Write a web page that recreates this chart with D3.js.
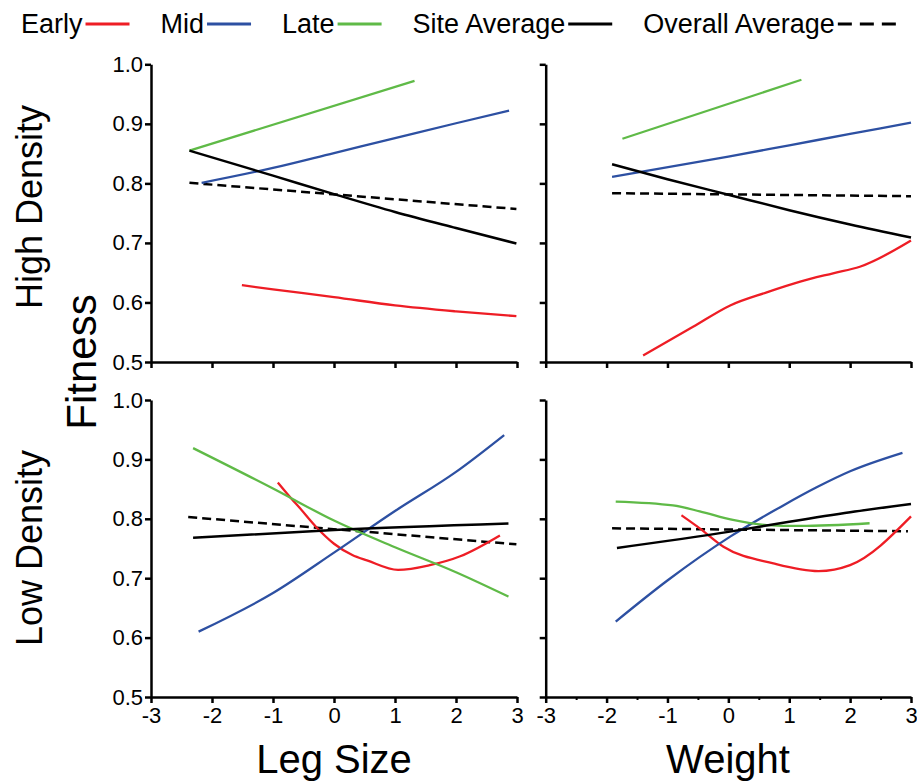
<!DOCTYPE html>
<html>
<head>
<meta charset="utf-8">
<script src="https://cdn.jsdelivr.net/npm/d3@7"></script>
<style>
  body { margin: 0; background: #fff; }
  text { font-family: "Liberation Sans", Arial, sans-serif; fill: #000; }
</style>
</head>
<body>
<div id="chart"></div>
<script>
// tick values
const yTicks = [0.5, 0.6, 0.7, 0.8, 0.9, 1.0];
const xTicks = [-3, -2, -1, 0, 1, 2, 3];
const xMinorTicks = [-2.5, -1.5, -0.5, 0.5, 1.5, 2.5];

const legendLabels = ["Early", "Mid", "Late", "Site Average", "Overall Average"];

// high density, leg size  [x, fitness]
const hdLegEarly = [[-1.51, 0.629], [-1, 0.622], [0, 0.609], [1, 0.595], [2, 0.585], [2.99, 0.577]];
const hdLegMid = [[-2.17, 0.801], [-1, 0.826], [0, 0.851], [1, 0.876], [2, 0.901], [2.87, 0.922]];
const hdLegLate = [[-2.37, 0.855], [1.32, 0.972]];
const hdLegSite = [[-2.37, 0.855], [-1, 0.813], [0, 0.782], [1, 0.752], [2, 0.725], [2.99, 0.699]];
const hdLegOverall = [[-2.37, 0.801], [2.99, 0.757]];

// high density, weight
const hdWtEarly = [[-1.40, 0.511], [-0.58, 0.559], [0.03, 0.595], [0.63, 0.617], [1.18, 0.635], [1.72, 0.649], [2.16, 0.660], [3.0, 0.704]];
const hdWtMid = [[-1.91, 0.811], [0, 0.845], [1, 0.864], [2, 0.883], [3, 0.902]];
const hdWtLate = [[-1.74, 0.875], [1.20, 0.974]];
const hdWtSite = [[-1.91, 0.832], [-1, 0.807], [0, 0.781], [1, 0.755], [2, 0.731], [3, 0.709]];
const hdWtOverall = [[-1.91, 0.7835], [3, 0.7785]];

// low density, leg size
const ldLegEarly = [[-0.92, 0.861], [-0.69, 0.833], [-0.56, 0.818], [-0.3, 0.787], [0, 0.758], [0.3, 0.739], [0.54, 0.73], [1.05, 0.714], [1.57, 0.722], [2.07, 0.737], [2.72, 0.772]];
const ldLegMid = [[-2.22, 0.61], [-1, 0.675], [0, 0.743], [1, 0.813], [2, 0.879], [2.79, 0.941]];
const ldLegLate = [[-2.31, 0.919], [-1, 0.851], [0, 0.797], [1, 0.752], [2, 0.71], [2.86, 0.669]];
const ldLegSite = [[-2.31, 0.768], [0, 0.781], [2.86, 0.792]];
const ldLegOverall = [[-2.39, 0.803], [2.99, 0.757]];

// low density, weight
const ldWtEarly = [[-0.77, 0.806], [-0.47, 0.784], [-0.08, 0.753], [0.74, 0.725], [1.48, 0.712], [2.0, 0.722], [3.0, 0.804]];
const ldWtMid = [[-1.85, 0.627], [-0.99, 0.697], [0.03, 0.770], [0.91, 0.823], [1.45, 0.853], [2.0, 0.880], [2.86, 0.911]];
const ldWtLate = [[-1.85, 0.829], [-0.91, 0.8225], [-0.47, 0.8126], [0.075, 0.798], [0.63, 0.7895], [1.18, 0.788], [2.32, 0.7925]];
const ldWtSite = [[-1.83, 0.751], [0, 0.778], [1, 0.795], [2, 0.811], [3.0, 0.825]];
const ldWtOverall = [[-1.91, 0.784], [2.95, 0.779]];

const colors = { early: "#ee1d25", mid: "#2d50a2", late: "#5fba47", site: "#000", overall: "#000" };

const svg = d3.select("#chart")
    .append("svg")
    .attr("width", 917)
    .attr("height", 783);

const leftX = d3.scaleLinear().domain([-3, 3]).range([151, 517]);
const rightX = d3.scaleLinear().domain([-3, 3]).range([545.7, 911]);
const topY = d3.scaleLinear().domain([0.5, 1.0]).range([362, 64.3]);
const botY = d3.scaleLinear().domain([0.5, 1.0]).range([697, 400]);

const panels = [
    { x: leftX, y: topY, labels: true, xLabels: false, minor: false,
      series: [hdLegOverall, hdLegEarly, hdLegMid, hdLegLate, hdLegSite] },
    { x: rightX, y: topY, labels: false, xLabels: false, minor: false,
      series: [hdWtOverall, hdWtEarly, hdWtMid, hdWtLate, hdWtSite] },
    { x: leftX, y: botY, labels: true, xLabels: true, minor: false,
      series: [ldLegOverall, ldLegEarly, ldLegMid, ldLegLate, ldLegSite] },
    { x: rightX, y: botY, labels: false, xLabels: true, minor: true,
      series: [ldWtOverall, ldWtEarly, ldWtMid, ldWtLate, ldWtSite] }
];
const styles = [
    { color: colors.overall, width: 2.5, dash: "9,5" },
    { color: colors.early, width: 2.3 },
    { color: colors.mid, width: 2.3 },
    { color: colors.late, width: 2.3 },
    { color: colors.site, width: 2.5 }
];

panels.forEach(p => {
    const line = d3.line()
        .x(d => p.x(d[0]))
        .y(d => p.y(d[1]))
        .curve(d3.curveMonotoneX);

    p.series.forEach((s, i) => {
        svg.append("path")
            .datum(s)
            .attr("d", line)
            .attr("fill", "none")
            .attr("stroke", styles[i].color)
            .attr("stroke-width", styles[i].width)
            .attr("stroke-dasharray", styles[i].dash || null);
    });

    const yAxis = svg.append("g")
        .attr("transform", `translate(${p.x.range()[0]},0)`)
        .call(d3.axisLeft(p.y).tickValues(yTicks).tickSize(6).tickSizeOuter(0).tickPadding(2)
            .tickFormat(p.labels ? d3.format(".1f") : () => ""));

    const xAxis = svg.append("g")
        .attr("transform", `translate(0,${p.y.range()[0]})`)
        .call(d3.axisBottom(p.x).tickValues(xTicks).tickSize(6).tickSizeOuter(0).tickPadding(4)
            .tickFormat(p.xLabels ? d => String(d) : () => ""));

    if (p.minor) {
        svg.append("g")
            .attr("transform", `translate(0,${p.y.range()[0]})`)
            .call(d3.axisBottom(p.x).tickValues(xMinorTicks).tickSize(3).tickFormat(() => ""))
            .call(g => g.select(".domain").remove())
            .selectAll("line").attr("stroke-width", 2);
    }

    [yAxis, xAxis].forEach(g => {
        g.select(".domain").attr("stroke-width", 2.5);
        g.selectAll(".tick line").attr("stroke-width", 2.5);
        g.selectAll(".tick text").attr("font-size", 22).attr("fill", "#000")
            .attr("font-family", "'Liberation Sans', Arial, sans-serif");
    });
});

// axis titles
svg.append("text").attr("x", 334).attr("y", 773).attr("text-anchor", "middle")
    .attr("font-size", 40).text("Leg Size");
svg.append("text").attr("x", 728).attr("y", 773).attr("text-anchor", "middle")
    .attr("font-size", 40).text("Weight");
svg.append("text").attr("transform", "translate(96,362) rotate(-90)").attr("text-anchor", "middle")
    .attr("font-size", 42).text("Fitness");
svg.append("text").attr("transform", "translate(42,207) rotate(-90)").attr("text-anchor", "middle")
    .attr("font-size", 36).text("High Density");
svg.append("text").attr("transform", "translate(42,548) rotate(-90)").attr("text-anchor", "middle")
    .attr("font-size", 36).text("Low Density");

// legend
const legend = svg.append("g");
let lx = 21;
legendLabels.forEach((label, i) => {
    const t = legend.append("text")
        .attr("x", lx).attr("y", 33)
        .attr("font-size", 27)
        .text(label);
    const end = lx + t.node().getComputedTextLength();
    const len = i === 4 ? 64 : 44;
    const st = [styles[1], styles[2], styles[3], styles[4], styles[0]][i];
    legend.append("line")
        .attr("x1", end + 3).attr("x2", end + 3 + len)
        .attr("y1", 24).attr("y2", 24)
        .attr("stroke", st.color)
        .attr("stroke-width", 3)
        .attr("stroke-dasharray", i === 4 ? "14,8" : null);
    lx = end + 3 + len + 31;
});
</script>
</body>
</html>
